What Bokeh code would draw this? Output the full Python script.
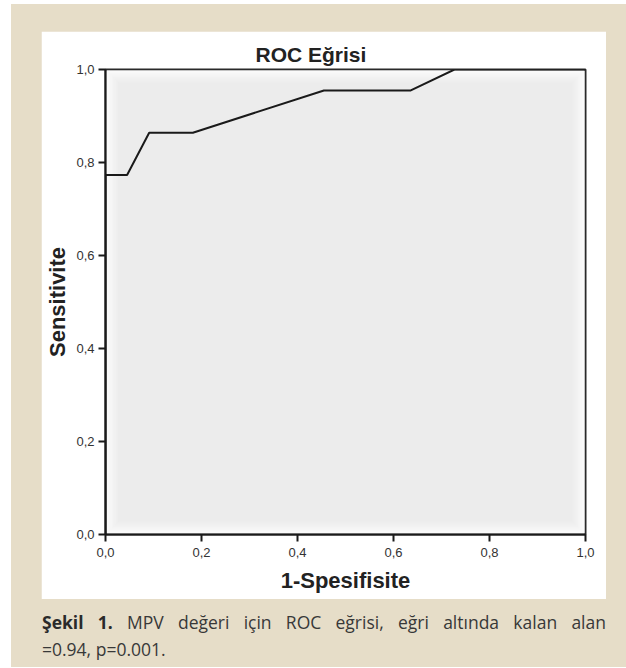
from bokeh.plotting import figure
from bokeh.models import BoxAnnotation, FixedTicker, Range1d, Div
from bokeh.layouts import column
from bokeh.embed import file_html
from bokeh.resources import INLINE

# ---- data ----
fpr = [0.0, 0.0, 0.045, 0.091, 0.182, 0.455, 0.636, 0.727, 1.0]
tpr = [0.0, 0.773, 0.773, 0.864, 0.864, 0.955, 0.955, 1.0, 1.0]
tick_values = [0.0, 0.2, 0.4, 0.6, 0.8, 1.0]
tick_labels = ["0,0", "0,2", "0,4", "0,6", "0,8", "1,0"]
title_text = "ROC Eğrisi"
x_title = "1-Spesifisite"
y_title = "Sensitivite"
caption_bold = "Şekil 1."
caption_line1 = "MPV değeri için ROC eğrisi, eğri altında kalan alan"
caption_line2 = "=0.94, p=0.001."

BEIGE = "#e6ddc8"
FONT = "Liberation Sans"

# white panel: page x 41..606, y 31..599 ; frame: x 105..585, y 69..534
p = figure(width=565, height=568, x_range=Range1d(0, 1), y_range=Range1d(0, 1),
           output_backend="svg", toolbar_location=None,
           min_border_left=64, min_border_right=21, min_border_top=38, min_border_bottom=65,
           margin=(27, 20, 0, 30))
p.border_fill_color = "white"
p.background_fill_color = "#ececec"
p.outline_line_color = "#2a2a2a"
p.outline_line_width = 2
p.xgrid.visible = False
p.ygrid.visible = False

# soft inner glow of the plot area (frame-relative pixels)
FW, FH = 480, 465
N = 10
for i in range(N):
    inset = 1 + i * 1.3
    v = int(round(252 + (236 - 252) * (i + 1) / N))
    col = "#%02x%02x%02x" % (v, v, v)
    p.add_layout(BoxAnnotation(left=inset, right=FW - inset, bottom=inset, top=FH - inset,
                               left_units="screen", right_units="screen",
                               bottom_units="screen", top_units="screen",
                               fill_color=col, fill_alpha=1.0, line_alpha=0,
                               level="underlay"))

p.line(fpr, tpr, line_color="#1a1a1a", line_width=2)

for ax in (p.xaxis, p.yaxis):
    ax.ticker = FixedTicker(ticks=tick_values)
    ax.major_label_overrides = {v: s for v, s in zip(tick_values, tick_labels)}
    ax.axis_line_color = "#1a1a1a"
    ax.axis_line_width = 2
    ax.major_tick_line_color = "#1a1a1a"
    ax.major_tick_line_width = 2
    ax.major_tick_out = 7
    ax.major_tick_in = 0
    ax.minor_tick_line_color = None
    ax.major_label_text_font = FONT
    ax.major_label_text_font_size = "13px"
    ax.major_label_text_color = "#333333"
    ax.axis_label_text_font = FONT
    ax.axis_label_text_font_style = "bold"
    ax.axis_label_text_font_size = "22px"
    ax.axis_label_text_color = "#222222"
p.xaxis.major_label_standoff = 6
p.yaxis.major_label_standoff = 4
p.xaxis.axis_label = x_title
p.yaxis.axis_label = y_title
p.xaxis.axis_label_standoff = 8
p.yaxis.axis_label_standoff = 3

p.title.text = title_text
p.title.align = "left"
p.title.offset = 150
p.title.text_font = FONT
p.title.text_font_style = "bold"
p.title.text_font_size = "21px"
p.title.text_color = "#222222"
p.title.standoff = 8

cap_html = (
    '<div style="box-sizing:content-box;margin:0 0 0 31px;padding-top:10px;width:564px;'
    'font-family:\'Open Sans\';font-size:17.5px;line-height:27px;color:#383838;">'
    '<div style="text-align:justify;text-align-last:justify;">'
    '<b style="color:#2a2a2a">%s</b> %s</div>'
    '<div style="text-align:left;">%s</div></div>' % (caption_bold, caption_line1, caption_line2)
)
cap = Div(text=cap_html, width=615, height=68, margin=0)

layout = column(p, cap, spacing=0, margin=(4, 0, 0, 11),
                styles={"background-color": BEIGE})
open("out.html", "w").write(file_html(layout, INLINE))
